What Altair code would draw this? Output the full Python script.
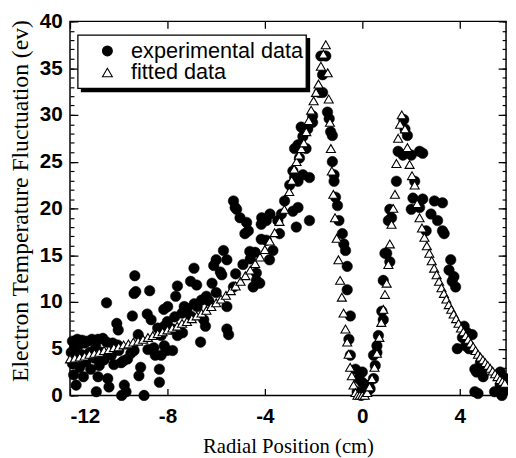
import altair as alt
import pandas as pd

# ---------------- data ----------------
x_ticks = [-12, -8, -4, 0, 4]
y_ticks = [0, 5, 10, 15, 20, 25, 30, 35, 40]
y_minor = list(range(0, 41))
series_names = ["experimental data", "fitted data"]

experimental = [
    (-11.95, 4.6), (-11.9, 5.8), (-11.9, 3.4), (-11.85, 2.2), (-11.8, 5.2), (-11.75, 1.1),
    (-11.7, 6.0), (-11.6, 5.5), (-11.6, 3.0), (-11.55, 4.4), (-11.5, 5.9), (-11.45, 2.0),
    (-11.4, 5.6), (-11.35, 3.6), (-11.3, 5.8), (-11.2, 4.6), (-11.15, 2.8), (-11.1, 6.0),
    (-11.0, 4.0), (-10.95, 5.3), (-10.92, 0.4), (-10.85, 6.0), (-10.85, 2.0), (-10.8, 3.2),
    (-10.7, 4.6), (-10.65, 6.1), (-10.6, 3.8), (-10.5, 5.7), (-10.5, 9.9), (-10.45, 1.8),
    (-10.4, 0.9), (-10.3, 4.3), (-10.25, 5.6), (-10.2, 3.3), (-10.08, 7.7), (-10.05, 5.4),
    (-10.02, 7.0), (-10.0, 4.8), (-9.9, 3.5), (-9.88, 0.0), (-9.8, 3.7), (-9.77, 1.1),
    (-9.7, 0.4), (-9.64, 3.9), (-9.5, 4.5), (-9.44, 8.5), (-9.37, 4.8), (-9.37, 10.9),
    (-9.34, 12.8), (-9.3, 11.1), (-9.2, 6.5), (-9.17, 2.1), (-9.1, 3.0), (-8.96, 0.0),
    (-8.83, 8.7), (-8.8, 4.9), (-8.73, 11.2), (-8.67, 8.1), (-8.56, 5.1), (-8.5, 4.3),
    (-8.4, 7.2), (-8.33, 2.8), (-8.33, 1.4), (-8.26, 4.3), (-8.26, 6.4), (-8.15, 9.2),
    (-8.13, 7.4), (-8.13, 5.3), (-8.02, 4.8), (-8.0, 7.9),
    (-7.99, 9.5), (-7.88, 7.1), (-7.79, 4.8), (-7.79, 7.1), (-7.7, 8.4), (-7.66, 10.6),
    (-7.59, 11.7), (-7.59, 6.4), (-7.4, 8.8), (-7.38, 6.7), (-7.31, 9.5), (-7.2, 9.3),
    (-7.05, 12.2), (-7.05, 8.5), (-6.91, 13.6), (-6.9, 9.8), (-6.8, 11.8), (-6.78, 9.5),
    (-6.64, 5.7), (-6.6, 10.2), (-6.51, 8.1), (-6.44, 7.4), (-6.4, 10.6), (-6.3, 10.1),
    (-6.17, 12.0), (-6.1, 13.9), (-6.0, 14.5), (-6.0, 11.0), (-5.83, 13.2), (-5.77, 12.9),
    (-5.7, 15.5), (-5.56, 14.5), (-5.56, 9.5), (-5.56, 7.1), (-5.49, 6.5), (-5.29, 11.6),
    (-5.29, 20.8), (-5.22, 20.1), (-5.2, 13.0), (-5.16, 19.9), (-5.02, 19.0), (-4.9, 14.0),
    (-4.82, 17.3), (-4.75, 18.5), (-4.68, 17.6), (-4.62, 15.4), (-4.6, 14.6), (-4.48, 11.6),
    (-4.4, 15.3), (-4.35, 12.3), (-4.35, 13.1), (-4.21, 12.0), (-4.15, 16.7), (-4.15, 18.3),
    (-4.13, 19.0),
    (-3.94, 16.6), (-3.94, 18.7), (-3.81, 14.5), (-3.79, 19.4), (-3.67, 15.5), (-3.47, 18.7),
    (-3.4, 17.3), (-3.32, 19.4), (-3.19, 20.8), (-2.98, 22.5), (-2.85, 24.0), (-2.85, 19.7),
    (-2.78, 23.3), (-2.78, 26.4), (-2.71, 18.0), (-2.64, 22.9), (-2.64, 26.8), (-2.64, 20.1),
    (-2.58, 25.4), (-2.51, 28.7), (-2.44, 27.7), (-2.44, 23.6), (-2.31, 26.4), (-2.24, 28.5),
    (-2.17, 23.3), (-2.17, 18.7), (-2.04, 29.2), (-2.04, 29.9), (-1.77, 32.4), (-1.7, 36.3),
    (-1.63, 34.3), (-1.63, 32.4), (-1.5, 36.3), (-1.43, 30.3), (-1.36, 29.6), (-1.3, 28.2),
    (-1.23, 27.8), (-1.23, 25.0), (-1.16, 23.6), (-1.16, 22.9), (-1.1, 21.2), (-1.02, 20.3),
    (-0.96, 18.7), (-0.82, 17.3), (-0.76, 16.2), (-0.69, 15.5), (-0.62, 13.8), (-0.62, 11.3),
    (-0.49, 8.5), (-0.55, 6.0), (-0.49, 4.3), (-0.28, 2.8), (-0.15, 1.8), (-0.21, 0.4),
    (-0.01, 1.4), (-0.05, 0.0), (0.0, 2.5), (0.12, 1.1), (0.05, 0.3),
    (0.19, 0.4), (0.26, 1.1), (0.32, 0.7), (0.46, 1.8), (0.53, 3.2), (0.46, 4.3),
    (0.6, 4.6), (0.6, 5.3), (0.66, 6.4), (0.8, 9.0), (0.86, 8.1), (0.86, 12.3),
    (0.93, 15.2), (1.0, 15.2), (1.13, 14.3), (1.07, 18.7), (1.13, 19.9), (1.2, 19.0),
    (1.4, 22.9), (1.47, 26.1), (1.67, 25.7), (1.7, 29.5), (1.75, 28.5), (1.85, 27.8),
    (2.01, 25.7), (2.35, 26.1), (2.48, 25.9), (2.15, 22.9), (2.08, 21.1), (2.01, 19.9),
    (2.48, 21.0), (2.35, 20.1), (2.96, 20.8), (3.29, 20.6), (2.82, 19.4), (3.09, 18.7),
    (3.29, 17.6), (2.62, 17.6), (3.36, 17.3),
    (3.63, 14.5), (3.56, 13.4), (3.69, 12.2), (3.76, 12.7), (3.83, 11.6), (4.18, 7.4),
    (4.31, 6.7), (4.11, 6.2), (4.51, 6.5), (4.24, 5.3), (4.38, 5.0), (3.9, 5.0),
    (4.62, 2.8), (4.69, 2.5), (4.85, 3.5), (4.92, 2.8), (4.96, 2.0), (5.66, 2.5),
    (5.66, 1.1), (5.8, 1.1), (4.62, 0.4), (4.75, 0.2), (5.43, 0.4), (5.73, 0.0),
    (5.8, 0.4), (5.88, 1.8),
]

fitted = [
    (-12.0, 3.9), (-11.8, 4.0), (-11.6, 4.1), (-11.4, 4.2), (-11.2, 4.4), (-11.0, 4.5),
    (-10.8, 4.6), (-10.6, 4.8), (-10.4, 4.9), (-10.2, 5.1), (-10.0, 5.2), (-9.8, 5.4),
    (-9.6, 5.5), (-9.4, 5.7), (-9.2, 5.8), (-9.0, 6.0), (-8.8, 6.2), (-8.6, 6.4),
    (-8.4, 6.6), (-8.2, 6.8), (-8.0, 7.0), (-7.8, 7.2), (-7.6, 7.4), (-7.4, 7.7),
    (-7.2, 7.9), (-7.0, 8.2), (-6.8, 8.5), (-6.6, 8.8), (-6.4, 9.1), (-6.2, 9.5),
    (-6.0, 9.9), (-5.8, 10.3), (-5.6, 10.7), (-5.4, 11.2), (-5.2, 11.7), (-5.0, 12.2),
    (-4.8, 12.8), (-4.6, 13.4), (-4.4, 14.1), (-4.2, 14.8), (-4.0, 15.6), (-3.8, 16.5),
    (-3.6, 17.4), (-3.4, 18.6), (-3.2, 19.9), (-3.0, 21.8), (-2.9, 23.0), (-2.8, 24.2),
    (-2.7, 25.0), (-2.6, 25.7), (-2.5, 26.4), (-2.4, 27.0), (-2.3, 28.2), (-2.2, 29.4),
    (-2.1, 30.5), (-2.0, 31.5), (-1.9, 32.4), (-1.8, 33.3), (-1.7, 35.2), (-1.6, 36.5),
    (-1.5, 37.5), (-1.42, 34.5), (-1.38, 31.7), (-1.33, 29.2), (-1.29, 26.4), (-1.25, 24.0),
    (-1.19, 21.5), (-1.12, 19.0), (-1.05, 16.8), (-0.98, 14.5), (-0.91, 12.3), (-0.84, 10.5),
    (-0.77, 8.8), (-0.69, 7.1), (-0.62, 5.7), (-0.56, 4.4), (-0.5, 3.0), (-0.43, 2.1),
    (-0.36, 1.1), (-0.28, 0.3), (-0.2, 0.0), (-0.1, 0.0), (0.0, 0.0), (0.1, 0.0),
    (0.2, 0.3), (0.3, 0.9), (0.4, 1.8), (0.5, 3.0), (0.6, 4.5), (0.7, 6.2),
    (0.78, 7.8), (0.86, 9.2), (0.93, 10.8), (1.0, 12.0), (1.07, 14.0), (1.13, 16.2),
    (1.2, 18.3), (1.27, 20.0), (1.34, 21.5), (1.4, 24.8), (1.47, 27.5), (1.55, 29.0),
    (1.62, 30.0), (1.75, 28.5), (1.85, 26.5), (1.94, 24.7), (2.04, 23.5), (2.15, 22.5),
    (2.25, 20.5), (2.35, 19.0), (2.45, 17.9), (2.55, 16.9), (2.65, 16.0), (2.75, 15.2),
    (2.85, 14.4), (2.95, 13.6), (3.05, 12.9), (3.15, 12.2), (3.25, 11.5), (3.35, 10.9),
    (3.45, 10.3), (3.55, 9.7), (3.65, 9.2), (3.75, 8.7), (3.85, 8.2), (3.95, 7.7),
    (4.05, 7.2), (4.15, 6.8), (4.25, 6.4), (4.35, 6.0), (4.45, 5.6), (4.55, 5.2),
    (4.65, 4.8), (4.75, 4.4), (4.85, 4.1), (4.95, 3.8), (5.05, 3.5), (5.15, 3.2),
    (5.25, 2.9), (5.35, 2.6), (5.45, 2.3), (5.55, 2.0), (5.65, 1.7), (5.75, 1.5),
    (5.85, 1.3),
]

# ---------------- build tables ----------------
exp_df = pd.DataFrame(experimental, columns=["r", "t"])
exp_df["series"] = series_names[0]
fit_df = pd.DataFrame(fitted, columns=["r", "t"])
fit_df["series"] = series_names[1]

W, H = 443, 380
SANS = "Liberation Sans"
SERIF = "Liberation Serif"

xs = alt.Scale(domain=[-12, 5.9], nice=False, zero=False)
ys = alt.Scale(domain=[0, 40], nice=False, zero=False)

shape_scale = alt.Scale(domain=series_names, range=["circle", "triangle-up"])
fill_scale = alt.Scale(domain=series_names, range=["black", "white"])
stroke_scale = alt.Scale(domain=series_names, range=["black", "black"])

legend = alt.Legend(
    title=None, orient="none", legendX=8, legendY=14,
    padding=5, symbolOffset=14, labelOffset=13, rowPadding=0,
    labelFont=SANS, labelFontSize=22, labelColor="black", labelLimit=400,
    symbolSize=100, symbolStrokeWidth=1.1,
)

no_axis = dict(labels=False, title=None, domain=False, grid=False)

series_enc = dict(
    shape=alt.Shape("series:N", scale=shape_scale, legend=legend),
    fill=alt.Fill("series:N", scale=fill_scale, legend=legend),
    stroke=alt.Stroke("series:N", scale=stroke_scale, legend=legend),
)

# experimental: bottom and left axes with labels
exp_layer = alt.Chart(exp_df).mark_point(
    filled=True, size=115, strokeWidth=0.5, opacity=1
).encode(
    x=alt.X("r:Q", scale=xs, axis=alt.Axis(
        orient="bottom", values=x_ticks, ticks=False, domain=False, grid=False,
        labelExpr="'' + datum.value", labelFont=SANS, labelFontWeight="bold",
        labelFontSize=21, labelColor="black", labelPadding=11,
        title="Radial Position (cm)", titleFont=SERIF, titleFontSize=21,
        titleFontWeight="normal", titleColor="black", titlePadding=9)),
    y=alt.Y("t:Q", scale=ys, axis=alt.Axis(
        orient="left", values=y_ticks, ticks=False, domain=False, grid=False,
        labelFont=SANS, labelFontWeight="bold", labelFontSize=21,
        labelColor="black", labelPadding=8,
        title="Electron Temperature Fluctuation (ev)", titleFont=SERIF,
        titleFontSize=24, titleFontWeight="normal", titleColor="black",
        titlePadding=7, titleY=182)),
    **series_enc,
)

# fitted: inward ticks at bottom (top-orient axis moved down) and left
fit_layer = alt.Chart(fit_df).mark_point(
    filled=True, size=85, strokeWidth=1.1, opacity=1
).encode(
    x=alt.X("r:Q", scale=xs, axis=alt.Axis(
        orient="top", offset=-H, values=x_ticks, tickSize=7, tickWidth=1.3,
        tickColor="black", **no_axis)),
    y=alt.Y("t:Q", scale=ys, axis=alt.Axis(
        orient="right", offset=-W, values=y_ticks, tickSize=8, tickWidth=1.3,
        tickColor="black", **no_axis)),
    **series_enc,
)

# hidden helper layers carrying the mirrored / minor tick axes
top_right = alt.Chart(fit_df).mark_point(opacity=0).encode(
    x=alt.X("r:Q", scale=xs, axis=alt.Axis(
        orient="bottom", offset=-H, values=x_ticks, tickSize=7, tickWidth=1.3,
        tickColor="black", **no_axis)),
    y=alt.Y("t:Q", scale=ys, axis=alt.Axis(
        orient="left", offset=-W, values=y_ticks, tickSize=8, tickWidth=1.3,
        tickColor="black", **no_axis)),
)
left_minor = alt.Chart(fit_df).mark_point(opacity=0).encode(
    x=alt.X("r:Q", scale=xs, axis=None),
    y=alt.Y("t:Q", scale=ys, axis=alt.Axis(
        orient="right", offset=-W, values=y_minor, tickSize=4, tickWidth=1.2,
        tickColor="black", **no_axis)),
)
right_minor = alt.Chart(fit_df).mark_point(opacity=0).encode(
    x=alt.X("r:Q", scale=xs, axis=None),
    y=alt.Y("t:Q", scale=ys, axis=alt.Axis(
        orient="left", offset=-W, values=y_minor, tickSize=4, tickWidth=1.2,
        tickColor="black", **no_axis)),
)

# legend frame with its drop shadow (legend content is drawn on top)
shadow = alt.Chart(alt.Data(values=[{}])).mark_rect(color="black").encode(
    x=alt.value(11), x2=alt.value(244), y=alt.value(17), y2=alt.value(72)
)
frame = alt.Chart(alt.Data(values=[{}])).mark_rect(
    fill="white", stroke="black", strokeWidth=1.3
).encode(
    x=alt.value(8), x2=alt.value(240), y=alt.value(14), y2=alt.value(68)
)

chart = alt.layer(
    exp_layer, fit_layer, top_right, left_minor, right_minor, shadow, frame
).resolve_axis(
    x="independent", y="independent"
).properties(
    width=W, height=H,
    autosize=alt.AutoSizeParams(type="none"),
    padding={"left": 63, "top": 10, "right": 2, "bottom": 60},
    background="white",
).configure_view(
    stroke="black", strokeWidth=1.5
)

chart.save("out.html", embed_options={"renderer": "svg", "actions": False})
